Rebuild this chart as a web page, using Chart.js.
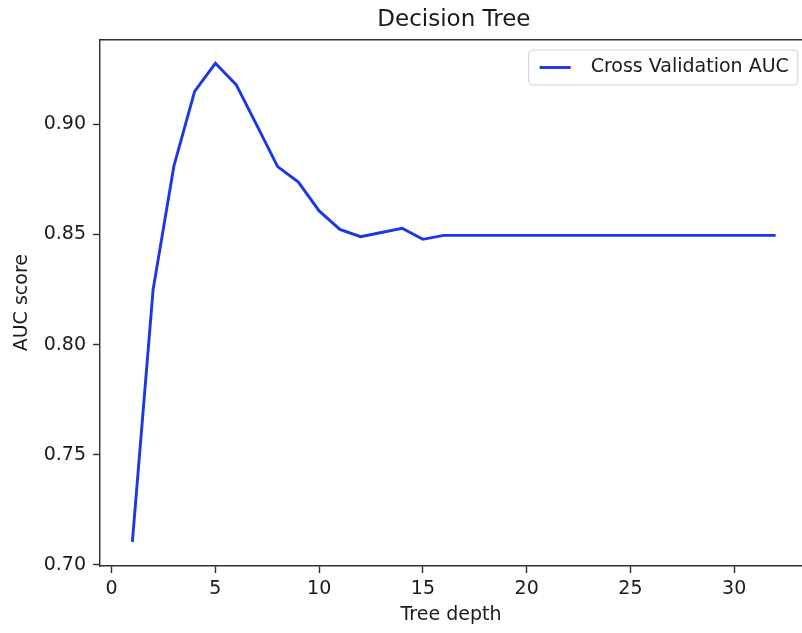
<!DOCTYPE html>
<html><head><meta charset="utf-8">
<script src="https://cdn.jsdelivr.net/npm/chart.js@4"></script>
<style>html,body{margin:0;padding:0;overflow:hidden;background:#fff}</style>
</head><body>
<canvas id="c" width="802" height="633" style="display:block;width:802px;height:633px"></canvas>
<script>
const treeDepth = [1,2,3,4,5,6,7,8,9,10,11,12,13,14,15,16,17,18,19,20,21,22,23,24,25,26,27,28,29,30,31,32];
const aucScores = [0.7104,0.8250,0.8810,0.9150,0.9277,0.9180,0.8995,0.8808,0.8738,0.8607,0.8523,0.8490,0.8509,0.8528,0.8478,0.8496,
  0.8496,0.8496,0.8496,0.8496,0.8496,0.8496,0.8496,0.8496,0.8496,0.8496,0.8496,0.8496,0.8496,0.8496,0.8496,0.8496];
const xTickValues = [0,5,10,15,20,25,30];
const yTickValues = [0.70,0.75,0.80,0.85,0.90];
const chartTitle = 'Decision Tree';
const seriesLabel = 'Cross Validation AUC';
const xAxisLabel = 'Tree depth';
const yAxisLabel = 'AUC score';

const FONT = "'DejaVu Sans', 'Liberation Sans', sans-serif";
Chart.defaults.font.family = FONT;
const LINE = 'rgb(28,56,226)';
const SPINE = '#2e2e2e';
const TXT = '#1a1a1a';
// the reference crops the axes box on the right; the visible x range ends at the image edge
const X_MIN = -0.56, X_MAX = 33.27, Y_MIN = 0.6995, Y_MAX = 0.9386;
const X_FULL_MAX = 33.55;

const overlayPlugin = {
  id: 'overlay',
  afterDraw(chart) {
    const ctx = chart.ctx, a = chart.chartArea;
    const ds = chart.data.datasets[0];
    const xs = chart.scales.x;
    // title centred over the full (uncropped) axes box, like matplotlib
    ctx.save();
    ctx.font = '23px ' + FONT;
    ctx.fillStyle = TXT;
    ctx.textAlign = 'center';
    ctx.textBaseline = 'middle';
    ctx.fillText(chartTitle, (a.left + xs.getPixelForValue(X_FULL_MAX)) / 2, 20);
    ctx.restore();

    // legend box in the upper right of the axes
    ctx.save();
    ctx.font = '19px ' + FONT;
    const tw = ctx.measureText(ds.label).width;
    const w = 11 + 31 + 20 + tw + 9, h = 35;
    const right = xs.getPixelForValue(X_FULL_MAX) - 10, top = a.top + 10.7;
    const left = right - w, bottom = top + h;
    const r = 4;
    ctx.beginPath();
    ctx.moveTo(left + r, top);
    ctx.lineTo(right - r, top);
    ctx.quadraticCurveTo(right, top, right, top + r);
    ctx.lineTo(right, bottom - r);
    ctx.quadraticCurveTo(right, bottom, right - r, bottom);
    ctx.lineTo(left + r, bottom);
    ctx.quadraticCurveTo(left, bottom, left, bottom - r);
    ctx.lineTo(left, top + r);
    ctx.quadraticCurveTo(left, top, left + r, top);
    ctx.closePath();
    ctx.fillStyle = 'rgba(255,255,255,0.8)';
    ctx.fill();
    ctx.strokeStyle = '#d0d0d0';
    ctx.lineWidth = 1;
    ctx.stroke();
    const cy = top + h / 2;
    ctx.beginPath();
    ctx.moveTo(left + 11, cy);
    ctx.lineTo(left + 42, cy);
    ctx.strokeStyle = ds.borderColor;
    ctx.lineWidth = ds.borderWidth;
    ctx.stroke();
    ctx.fillStyle = TXT;
    ctx.textBaseline = 'middle';
    ctx.textAlign = 'left';
    ctx.fillText(ds.label, left + 62, cy);
    ctx.restore();
  }
};

new Chart(document.getElementById('c'), {
  type: 'line',
  data: {
    datasets: [{
      label: seriesLabel,
      data: treeDepth.map((d, i) => ({ x: d, y: aucScores[i] })),
      borderColor: LINE,
      borderWidth: 2.9,
      pointRadius: 0,
      tension: 0,
      fill: false
    }]
  },
  options: {
    responsive: false,
    animation: false,
    plugins: { legend: { display: false }, title: { display: false }, tooltip: { enabled: false } },
    scales: {
      x: {
        type: 'linear', position: 'bottom', min: X_MIN, max: X_MAX,
        afterBuildTicks: s => { s.ticks = xTickValues.map(v => ({ value: v })); },
        afterFit: s => { s.height = 67; },
        ticks: { color: TXT, font: { size: 19 }, padding: 4.6, maxRotation: 0, callback: v => String(v) },
        grid: { display: true, drawOnChartArea: false, drawTicks: true, tickLength: 7, tickColor: SPINE, tickWidth: 1.4 },
        border: { display: true, color: SPINE, width: 1.4 },
        title: { display: true, text: xAxisLabel, color: TXT, font: { size: 19 }, padding: { top: 0, bottom: 7 } }
      },
      xTop: {
        type: 'linear', position: 'top', min: X_MIN, max: X_MAX,
        afterBuildTicks: s => { s.ticks = []; },
        afterFit: s => { s.height = 39.3; },
        ticks: { display: false },
        grid: { display: false, drawTicks: false },
        border: { display: true, color: SPINE, width: 1.4 },
        title: { display: false }
      },
      y: {
        type: 'linear', position: 'left', min: Y_MIN, max: Y_MAX,
        afterBuildTicks: s => { s.ticks = yTickValues.map(v => ({ value: v })); },
        afterFit: s => { s.width = 100; },
        ticks: { color: TXT, font: { size: 19 }, padding: 7, callback: v => Number(v).toFixed(2) },
        grid: { display: true, drawOnChartArea: false, drawTicks: true, tickLength: 7, tickColor: SPINE, tickWidth: 1.4 },
        border: { display: true, color: SPINE, width: 1.4 },
        title: { display: true, text: yAxisLabel, color: TXT, font: { size: 19 }, padding: { top: 10.4, bottom: 0 } }
      }
    }
  },
  plugins: [overlayPlugin]
});
</script>
</body></html>
